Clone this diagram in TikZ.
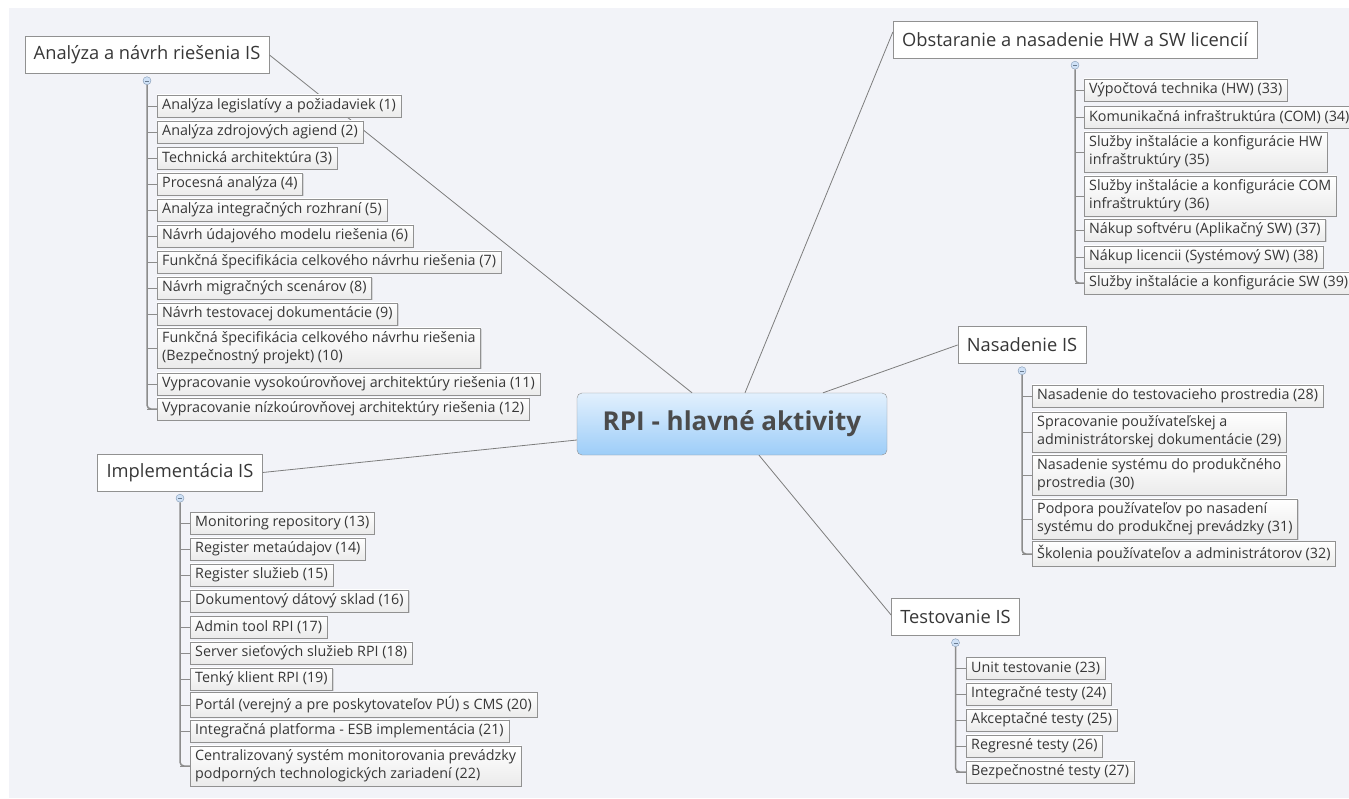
\documentclass[tikz,border=0pt]{standalone}
\usepackage{fontspec}
\setmainfont{Open Sans}
\usetikzlibrary{shadows}
\definecolor{bgcol}{RGB}{242,243,248}
\definecolor{txt}{RGB}{55,55,55}
\definecolor{edge}{RGB}{125,125,125}
\definecolor{boxline}{RGB}{145,145,145}
\definecolor{rootlo}{RGB}{157,205,248}
\definecolor{roothi}{RGB}{226,240,253}
\definecolor{foldcol}{RGB}{175,205,240}
\tikzset{
  root/.style={draw=boxline, rounded corners=5pt, top color=roothi, bottom color=rootlo, minimum width=310pt, minimum height=62pt, font=\fontsize{26}{30}\selectfont\bfseries, text=txt!90!white},
  topic/.style={draw=boxline, fill=white, minimum height=37pt, inner xsep=9pt, font=\fontsize{18.3}{22}\selectfont, text=txt},
  sub/.style={draw=boxline, top color=white, bottom color=black!8, anchor=west, align=left, minimum height=22pt, inner xsep=5pt, inner ysep=4pt, font=\fontsize{14.3}{18}\selectfont, text=txt, drop shadow={shadow xshift=1pt, shadow yshift=-1pt, opacity=0.25}},
  link/.style={draw=edge, line width=0.8pt},
  tree/.style={draw=black!45, line width=1.5pt, rounded corners=4pt},
  tick/.style={draw=black!45, line width=0.8pt},
  fold/.style={circle, draw=foldcol!75!black, fill=foldcol!60, minimum size=8pt, inner sep=0pt}
}
\begin{document}
\begin{tikzpicture}[x=1pt, y=-1pt]
	\useasboundingbox (0,0) rectangle (1349,798);
	\clip (0,0) rectangle (1349,798);
	\fill[white] (0,0) rectangle (1349,798);
	\fill[bgcol] (9,8) rectangle (1349,798);
	% centre
	\node[root] (root) at (732,424) {RPI - hlavné aktivity};
	% main topics
	\node[topic] (a) at (147,55) {Analýza a návrh riešenia IS};
	\node[topic] (o) at (1075,39.5) {Obstaranie a nasadenie HW a SW licencií};
	\node[topic] (n) at (1022,345) {Nasadenie IS};
	\node[topic] (i) at (180,472.5) {Implementácia IS};
	\node[topic] (t) at (955.5,617) {Testovanie IS};
	\draw[link] (a.east) -- ([xshift=-40pt]root.north);
	\draw[link] ([yshift=7.5pt]o.west) -- ([xshift=13pt]root.north);
	\draw[link] (n.west) -- ([xshift=91pt]root.north);
	\draw[link] (i.east) -- ([yshift=-16pt]root.west);
	\draw[link] ([yshift=2pt]t.west) -- ([xshift=27pt]root.south);
	% fold buttons
	\foreach \k in {a,o,n,i,t} {
		\node[fold] (\k f) at ([yshift=-7pt]\k.south) {};
		\draw[foldcol!60!black] ([xshift=-2pt]\k f.center) -- ([xshift=2pt]\k f.center);
	}
	% Analyza a navrh
	\foreach \y/\t [count=\i] in {106/Analýza legislatívy a požiadaviek (1), 132/Analýza zdrojových agiend (2), 158/Technická architektúra (3), 184/Procesná analýza (4), 210/Analýza integračných rozhraní (5), 236/Návrh údajového modelu riešenia (6), 262/Funkčná špecifikácia celkového návrhu riešenia (7), 288/Návrh migračných scenárov (8), 314/Návrh testovacej dokumentácie (9), 348/{Funkčná špecifikácia celkového návrhu riešenia\\(Bezpečnostný projekt) (10)}, 384/Vypracovanie vysokoúrovňovej architektúry riešenia (11), 409/Vypracovanie nízkoúrovňovej architektúry riešenia (12)} {
		\node[sub] (a\i) at (157,\y) {\t};
		\draw[tick] (a\i.west -| af) -- (a\i.west);
	}
	\draw[tree] (af.south) |- (a12.west);
	% Obstaranie
	\foreach \y/\t [count=\i from 33] in {90/Výpočtová technika (HW) (33), 117/Komunikačná infraštruktúra (COM) (34), 152/{Služby inštalácie a konfigurácie HW\\infraštruktúry (35)}, 196/{Služby inštalácie a konfigurácie COM\\infraštruktúry (36)}, 230/Nákup softvéru (Aplikačný SW) (37), 257/Nákup licencii (Systémový SW) (38), 283/Služby inštalácie a konfigurácie SW (39)} {
		\node[sub] (o\i) at (1084,\y) {\t};
		\draw[tick] (o\i.west -| of) -- (o\i.west);
	}
	\draw[tree] (of.south) |- (o39.west);
	% Nasadenie
	\foreach \y/\t [count=\i from 28] in {396/Nasadenie do testovacieho prostredia (28), 432/{Spracovanie používateľskej a\\administrátorskej dokumentácie (29)}, 475/{Nasadenie systému do produkčného\\prostredia (30)}, 519/{Podpora používateľov po nasadení\\systému do produkčnej prevádzky (31)}, 554/Školenia používateľov a administrátorov (32)} {
		\node[sub] (n\i) at (1032,\y) {\t};
		\draw[tick] (n\i.west -| nf) -- (n\i.west);
	}
	\draw[tree] (nf.south) |- (n32.west);
	% Implementacia
	\foreach \y/\t [count=\i from 13] in {523/Monitoring repository (13), 549/Register metaúdajov (14), 575/Register služieb (15), 601/Dokumentový dátový sklad (16), 627/Admin tool RPI (17), 653/Server sieťových služieb RPI (18), 679/Tenký klient RPI (19), 705/Portál (verejný a pre poskytovateľov PÚ) s CMS (20), 731/Integračná platforma - ESB implementácia (21), 766/{Centralizovaný systém monitorovania prevádzky\\podporných technologických zariadení (22)}} {
		\node[sub] (i\i) at (190,\y) {\t};
		\draw[tick] (i\i.west -| if) -- (i\i.west);
	}
	\draw[tree] (if.south) |- (i22.west);
	% Testovanie
	\foreach \y/\t [count=\i from 23] in {668/Unit testovanie (23), 694/Integračné testy (24), 720/Akceptačné testy (25), 746/Regresné testy (26), 772/Bezpečnostné testy (27)} {
		\node[sub] (t\i) at (966,\y) {\t};
		\draw[tick] (t\i.west -| tf) -- (t\i.west);
	}
	\draw[tree] (tf.south) |- (t27.west);
\end{tikzpicture}
\end{document}
